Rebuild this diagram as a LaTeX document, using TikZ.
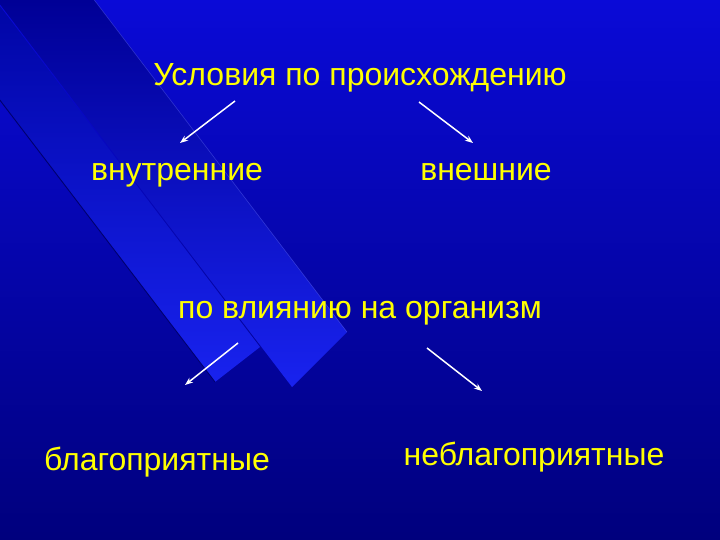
\documentclass[tikz,border=0pt]{standalone}
\usepackage{fontspec}
\setmainfont{Liberation Sans}
\usetikzlibrary{arrows.meta}
\definecolor{bgtop}{RGB}{10,10,215}
\definecolor{bgmid}{RGB}{4,4,185}
\definecolor{bgbot}{RGB}{0,0,125}
\definecolor{stAtop}{RGB}{0,5,165}
\definecolor{stBtop}{RGB}{0,0,150}
\definecolor{stmid}{RGB}{12,20,218}
\definecolor{stbot}{RGB}{25,35,240}
\definecolor{edgedark}{RGB}{0,0,110}
\definecolor{edgelight}{RGB}{120,130,255}
\definecolor{txt}{RGB}{255,255,0}
\begin{document}
\begin{tikzpicture}[x=1pt,y=-1pt,
  lbl/.style={text=txt,font=\fontsize{32}{38}\selectfont,inner sep=0pt,anchor=base},
  arr/.style={draw=white,line width=1.5pt,-{Stealth[length=8pt,width=6pt]}}]
\useasboundingbox (0,0) rectangle (720,540);
\shade[top color=bgtop,middle color=bgmid,bottom color=bgbot] (0,0) rectangle (720,540);
\begin{scope}
  \clip (0,0) rectangle (720,540);
  % strip A
  \begin{scope}
    \clip (215,382) -- (260,347) -- (-104,-130) -- (-149,-95) -- cycle;
    \shade[top color=stAtop,middle color=stmid,bottom color=stbot] (0,0) rectangle (720,390);
  \end{scope}
  % strip B
  \begin{scope}
    \clip (292,387) -- (347,332) -- (-77,-225) -- (-133,-170) -- cycle;
    \shade[top color=stBtop,middle color=stmid,bottom color=stbot] (0,0) rectangle (720,390);
  \end{scope}
  % strip edges
  \draw[edgedark,line width=0.9pt] (-149,-95) -- (215,382);
  \draw[edgelight,line width=0.6pt,opacity=0.35] (-77,-225) -- (347,332);
\end{scope}
% texts
\node[lbl] (title) at (360,86) {Условия по происхождению};
\node[lbl] (inner) at (177,181) {внутренние};
\node[lbl] (outer) at (486,181) {внешние};
\node[lbl] (infl) at (360,318) {по влиянию на организм};
\node[lbl] (fav) at (157,470) {благоприятные};
\node[lbl] (unfav) at (534,465) {неблагоприятные};
% arrow ends
\coordinate (a1s) at (235,101); \coordinate (a1e) at (180,143);
\coordinate (a2s) at (419,102); \coordinate (a2e) at (473,143);
\coordinate (a3s) at (238,343); \coordinate (a3e) at (185,385);
\coordinate (a4s) at (427,348); \coordinate (a4e) at (482,391);
\draw[arr] (a1s) -- (a1e);
\draw[arr] (a2s) -- (a2e);
\draw[arr] (a3s) -- (a3e);
\draw[arr] (a4s) -- (a4e);
\end{tikzpicture}
\end{document}
